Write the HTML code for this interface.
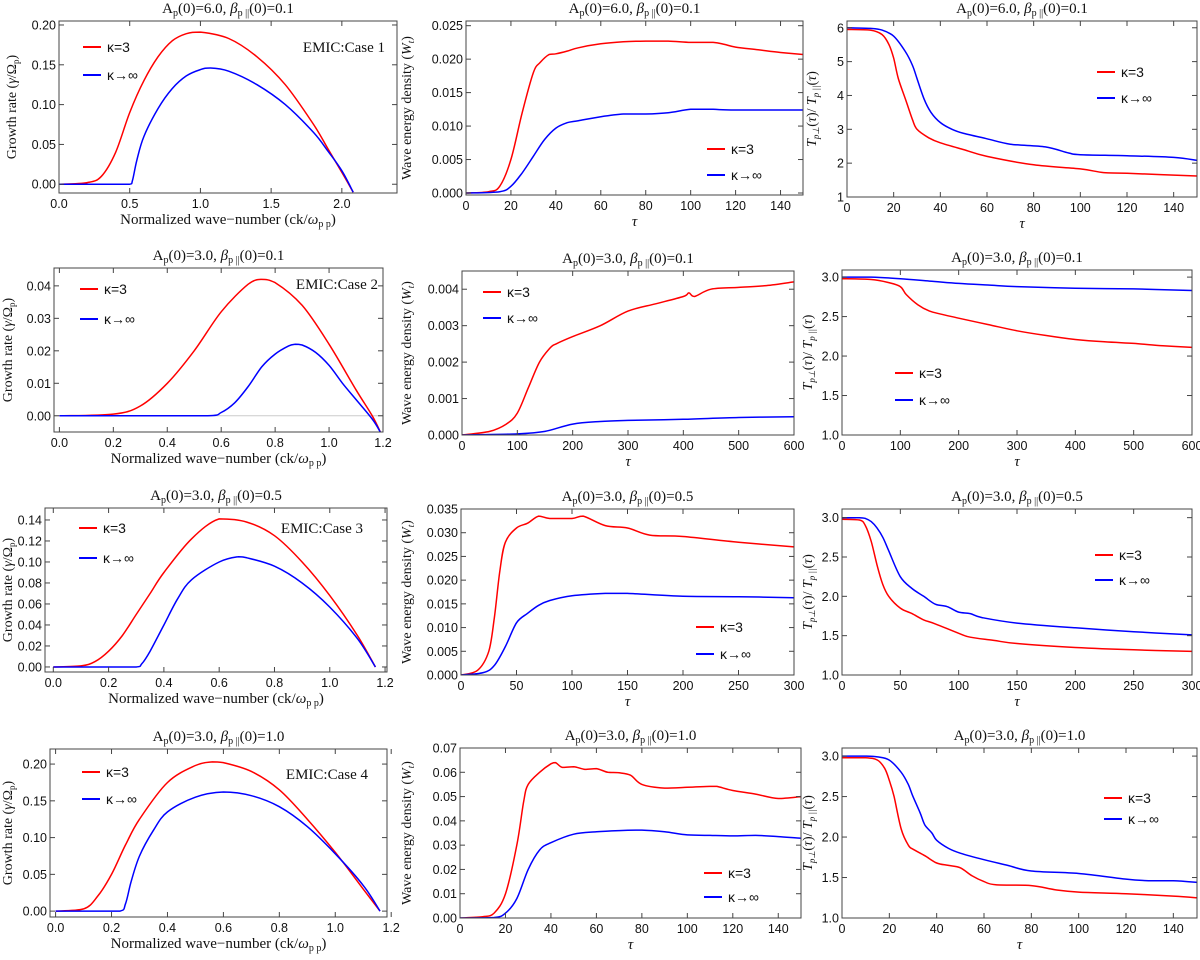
<!DOCTYPE html>
<html><head><meta charset="utf-8"><style>
html,body{margin:0;padding:0;background:#fff}
svg{display:block}
text{font-family:"Liberation Sans",sans-serif}
.ser{font-family:"Liberation Serif",serif}
</style></head><body>
<svg id="fig" width="1200" height="960" viewBox="0 0 1200 960"></svg>
<script>
// ---------- data ----------
const a1_xr=[0,0.2,0.3,0.4,0.5,0.6,0.7,0.8,0.9,1.0,1.2,1.4,1.6,1.8,1.9,2.0,2.08];
const a1_yr=[0,0.002,0.01,0.04,0.09,0.13,0.16,0.18,0.189,0.191,0.183,0.16,0.125,0.075,0.045,0.015,-0.01];
const a1_xb=[0,0.5,0.52,0.55,0.6,0.7,0.8,0.9,1.0,1.07,1.2,1.4,1.6,1.8,1.9,2.0,2.08];
const a1_yb=[0,0,0.005,0.03,0.06,0.095,0.12,0.136,0.144,0.146,0.142,0.125,0.1,0.065,0.042,0.017,-0.01];
const a2_xr=[0,0.2,0.3,0.4,0.5,0.6,0.7,0.75,0.8,0.9,1.0,1.1,1.16,1.19];
const a2_yr=[0,0.0005,0.003,0.01,0.02,0.032,0.0405,0.042,0.041,0.034,0.022,0.008,0,-0.005];
const a2_xb=[0,0.55,0.6,0.65,0.7,0.75,0.8,0.85,0.875,0.9,0.95,1.0,1.05,1.1,1.16,1.19];
const a2_yb=[0,0,0.001,0.004,0.009,0.015,0.019,0.0215,0.022,0.0218,0.0195,0.0155,0.01,0.005,-0.001,-0.005];
const a3_xr=[0,0.1,0.15,0.2,0.25,0.3,0.35,0.4,0.5,0.6,0.7,0.8,0.9,1.0,1.1,1.165];
const a3_yr=[0,0.001,0.005,0.015,0.03,0.05,0.07,0.09,0.122,0.141,0.138,0.125,0.1,0.068,0.03,0];
const a3_xb=[0,0.3,0.32,0.35,0.4,0.45,0.5,0.6,0.67,0.7,0.8,0.9,1.0,1.1,1.165];
const a3_yb=[0,0,0.003,0.015,0.04,0.065,0.083,0.1,0.105,0.104,0.096,0.08,0.057,0.027,0];
const a4_xr=[0,0.1,0.15,0.2,0.25,0.3,0.4,0.5,0.56,0.6,0.7,0.8,0.9,1.0,1.1,1.16];
const a4_yr=[0,0.003,0.02,0.05,0.09,0.125,0.175,0.198,0.203,0.202,0.19,0.165,0.125,0.08,0.03,0];
const a4_xb=[0,0.23,0.25,0.27,0.3,0.35,0.4,0.5,0.6,0.7,0.8,0.9,1.0,1.1,1.16];
const a4_yb=[0,0,0.01,0.04,0.075,0.11,0.135,0.155,0.162,0.157,0.142,0.115,0.078,0.035,0];
const b1_xr=[0,10,15,20,25,30,33,37,40,45,50,60,70,80,90,100,110,115,120,130,140,150];
const b1_yr=[0,0.0002,0.001,0.005,0.012,0.018,0.0195,0.0207,0.0208,0.0212,0.0217,0.0223,0.0226,0.0227,0.0227,0.0225,0.0225,0.0222,0.0218,0.0214,0.021,0.0207];
const b1_xb=[0,15,20,25,30,35,40,45,50,60,70,80,90,100,110,120,150];
const b1_yb=[0,0.0002,0.001,0.003,0.0055,0.008,0.0097,0.0105,0.0108,0.0114,0.0118,0.0118,0.012,0.0125,0.0125,0.0124,0.0124];
const b2_xr=[0,50,80,100,120,140,160,170,200,250,300,350,400,410,420,450,500,550,600];
const b2_yr=[0,0.0001,0.0003,0.0006,0.0013,0.002,0.0024,0.0025,0.0027,0.003,0.0034,0.0036,0.0038,0.0039,0.0038,0.004,0.00405,0.0041,0.0042];
const b2_xb=[0,100,150,200,250,300,400,500,600];
const b2_yb=[0,0.00003,0.0001,0.0003,0.00037,0.0004,0.00043,0.00048,0.0005];
const b3_xr=[0,15,25,30,35,40,50,60,70,80,100,110,130,150,170,200,250,300];
const b3_yr=[0,0.001,0.005,0.012,0.022,0.028,0.031,0.032,0.0335,0.033,0.033,0.0335,0.0315,0.031,0.0295,0.0292,0.028,0.027];
const b3_xb=[0,20,30,40,50,60,70,80,100,130,150,200,250,300];
const b3_yb=[0,0.0005,0.002,0.006,0.011,0.013,0.0147,0.0157,0.0167,0.0172,0.0172,0.0166,0.0165,0.0163];
const b4_xr=[0,10,15,20,25,28,30,35,40,42,45,50,55,60,65,70,75,80,90,100,110,113,120,130,140,150];
const b4_yr=[0,0.0005,0.002,0.01,0.03,0.048,0.055,0.06,0.0635,0.064,0.062,0.0623,0.0612,0.0615,0.06,0.0598,0.0588,0.055,0.0535,0.0538,0.0542,0.0542,0.0525,0.051,0.0492,0.05];
const b4_xb=[0,15,20,25,30,35,40,50,60,70,80,90,100,110,120,130,140,150];
const b4_yb=[0,0.0002,0.002,0.008,0.02,0.028,0.031,0.0345,0.0355,0.036,0.0362,0.0355,0.0342,0.034,0.0338,0.034,0.0335,0.0328];
const c1_xr=[0,10,15,18,20,22,25,28,30,35,40,50,60,80,100,110,120,150];
const c1_yr=[5.95,5.93,5.8,5.5,5.1,4.5,3.9,3.3,3.0,2.75,2.6,2.4,2.2,1.95,1.83,1.72,1.7,1.62];
const c1_xb=[0,10,15,20,25,28,30,33,36,40,45,50,60,70,85,95,100,120,140,150];
const c1_yb=[6.0,5.98,5.93,5.75,5.3,4.9,4.5,3.9,3.5,3.2,3.0,2.88,2.72,2.56,2.48,2.3,2.25,2.22,2.17,2.08];
const c2_xr=[0,50,80,100,110,130,150,170,200,250,300,350,400,450,500,550,600];
const c2_yr=[2.98,2.97,2.93,2.88,2.78,2.65,2.57,2.53,2.48,2.4,2.32,2.26,2.21,2.18,2.16,2.13,2.11];
const c2_xb=[0,50,100,150,200,250,300,400,500,600];
const c2_yb=[3.0,3.0,2.98,2.95,2.92,2.9,2.88,2.86,2.85,2.83];
const c3_xr=[0,15,20,25,30,35,40,50,60,70,80,100,110,130,150,200,250,300];
const c3_yr=[2.98,2.97,2.9,2.7,2.4,2.15,2.0,1.85,1.78,1.7,1.65,1.53,1.48,1.44,1.4,1.35,1.32,1.3];
const c3_xb=[0,15,20,25,30,35,40,50,60,70,80,90,100,110,120,150,200,250,300];
const c3_yb=[3.0,3.0,2.99,2.95,2.87,2.75,2.58,2.25,2.1,2.0,1.9,1.87,1.8,1.78,1.73,1.66,1.6,1.55,1.51];
const c4_xr=[0,10,15,18,20,22,25,28,30,35,40,45,50,55,60,65,80,90,100,120,140,150];
const c4_yr=[2.98,2.98,2.95,2.85,2.7,2.5,2.1,1.9,1.85,1.77,1.68,1.65,1.62,1.52,1.45,1.41,1.4,1.35,1.32,1.3,1.27,1.25];
const c4_xb=[0,10,15,20,25,28,30,33,35,38,40,45,50,60,70,80,100,120,130,140,150];
const c4_yb=[3.0,3.0,2.99,2.95,2.8,2.65,2.5,2.3,2.15,2.05,1.96,1.86,1.8,1.72,1.65,1.58,1.55,1.48,1.46,1.46,1.44];
const betas=["0.1","0.1","0.5","1.0"];

// ---------- drawing ----------
const NS="http://www.w3.org/2000/svg";
const svg=document.getElementById('fig');
function mk(tag,attrs,parent){const e=document.createElementNS(NS,tag);for(const k in attrs)e.setAttribute(k,attrs[k]);(parent||svg).appendChild(e);return e;}
function clamp(v,a,b){const lo=Math.min(a,b),hi=Math.max(a,b);return Math.max(lo,Math.min(hi,v));}
function smooth(pts){let d="M"+pts[0][0].toFixed(1)+","+pts[0][1].toFixed(1);
 for(let i=0;i<pts.length-1;i++){const p0=pts[Math.max(0,i-1)],p1=pts[i],p2=pts[i+1],p3=pts[Math.min(pts.length-1,i+2)];
 const c1=[clamp(p1[0]+(p2[0]-p0[0])/6,p1[0],p2[0]),clamp(p1[1]+(p2[1]-p0[1])/6,p1[1],p2[1])];
 const c2=[clamp(p2[0]-(p3[0]-p1[0])/6,p1[0],p2[0]),clamp(p2[1]-(p3[1]-p1[1])/6,p1[1],p2[1])];
 d+="C"+c1[0].toFixed(1)+","+c1[1].toFixed(1)+" "+c2[0].toFixed(1)+","+c2[1].toFixed(1)+" "+p2[0].toFixed(1)+","+p2[1].toFixed(1);}
 return d;}

const panels=[
 {id:"a1",col:0,row:0,L:59,R:397,T:21,B:193,x0:0,x1:2.39,y0:-0.011,y1:0.205,xt:[0,0.5,1,1.5,2],xf:1,yt:[0,0.05,0.1,0.15,0.2],yf:2,xr:a1_xr,yr:a1_yr,xb:a1_xb,yb:a1_yb,lg:[83,47,75],cs:"EMIC:Case 1",csx:385,csy:52},
 {id:"a2",col:0,row:1,L:54,R:383,T:268,B:432,x0:-0.02,x1:1.2,y0:-0.005,y1:0.0455,xt:[0,0.2,0.4,0.6,0.8,1,1.2],xf:1,yt:[0,0.01,0.02,0.03,0.04],yf:2,xr:a2_xr,yr:a2_yr,xb:a2_xb,yb:a2_yb,lg:[80,289,319],cs:"EMIC:Case 2",csx:378,csy:289,zero:true},
 {id:"a3",col:0,row:2,L:45,R:387,T:508,B:672,x0:-0.03,x1:1.207,y0:-0.0048,y1:0.1514,xt:[0,0.2,0.4,0.6,0.8,1,1.2],xf:1,yt:[0,0.02,0.04,0.06,0.08,0.1,0.12,0.14],yf:2,xr:a3_xr,yr:a3_yr,xb:a3_xb,yb:a3_yb,lg:[79,528,558],cs:"EMIC:Case 3",csx:363,csy:533},
 {id:"a4",col:0,row:3,L:50,R:387,T:749,B:917,x0:-0.02,x1:1.185,y0:-0.008,y1:0.2205,xt:[0,0.2,0.4,0.6,0.8,1,1.2],xf:1,yt:[0,0.05,0.1,0.15,0.2],yf:2,xr:a4_xr,yr:a4_yr,xb:a4_xb,yb:a4_yb,lg:[82,772,799],cs:"EMIC:Case 4",csx:368,csy:779},
 {id:"b1",col:1,row:0,L:466,R:803,T:21,B:195,x0:0,x1:150,y0:-0.0003,y1:0.0257,xt:[0,20,40,60,80,100,120,140],xf:0,yt:[0,0.005,0.01,0.015,0.02,0.025],yf:3,xr:b1_xr,yr:b1_yr,xb:b1_xb,yb:b1_yb,lg:[707,149,175]},
 {id:"b2",col:1,row:1,L:462,R:794,T:271,B:435,x0:0,x1:600,y0:0,y1:0.0045,xt:[0,100,200,300,400,500,600],xf:0,yt:[0,0.001,0.002,0.003,0.004],yf:3,xr:b2_xr,yr:b2_yr,xb:b2_xb,yb:b2_yb,lg:[483,292,318]},
 {id:"b3",col:1,row:2,L:461,R:794,T:509,B:675,x0:0,x1:300,y0:0,y1:0.035,xt:[0,50,100,150,200,250,300],xf:0,yt:[0,0.005,0.01,0.015,0.02,0.025,0.03,0.035],yf:3,xr:b3_xr,yr:b3_yr,xb:b3_xb,yb:b3_yb,lg:[696,627,654]},
 {id:"b4",col:1,row:3,L:460,R:801,T:748,B:918,x0:0,x1:150,y0:0,y1:0.07,xt:[0,20,40,60,80,100,120,140],xf:0,yt:[0,0.01,0.02,0.03,0.04,0.05,0.06,0.07],yf:2,xr:b4_xr,yr:b4_yr,xb:b4_xb,yb:b4_yb,lg:[704,873,897]},
 {id:"c1",col:2,row:0,L:847,R:1197,T:21,B:197,x0:0,x1:150,y0:1,y1:6.2,xt:[0,20,40,60,80,100,120,140],xf:0,yt:[1,2,3,4,5,6],yf:0,xr:c1_xr,yr:c1_yr,xb:c1_xb,yb:c1_yb,lg:[1097,72,98]},
 {id:"c2",col:2,row:1,L:842,R:1192,T:270,B:435,x0:0,x1:600,y0:1,y1:3.09,xt:[0,100,200,300,400,500,600],xf:0,yt:[1,1.5,2,2.5,3],yf:1,xr:c2_xr,yr:c2_yr,xb:c2_xb,yb:c2_yb,lg:[895,373,400]},
 {id:"c3",col:2,row:2,L:842,R:1192,T:509,B:675,x0:0,x1:300,y0:1,y1:3.11,xt:[0,50,100,150,200,250,300],xf:0,yt:[1,1.5,2,2.5,3],yf:1,xr:c3_xr,yr:c3_yr,xb:c3_xb,yb:c3_yb,lg:[1095,555,580]},
 {id:"c4",col:2,row:3,L:842,R:1197,T:748,B:918,x0:0,x1:150,y0:1,y1:3.1,xt:[0,20,40,60,80,100,120,140],xf:0,yt:[1,1.5,2,2.5,3],yf:1,xr:c4_xr,yr:c4_yr,xb:c4_xb,yb:c4_yb,lg:[1104,798,819]}
];

panels.forEach(p=>{
 const g=mk('g',{});
 
 
 const sx=v=>p.L+(v-p.x0)/(p.x1-p.x0)*(p.R-p.L);
 const sy=v=>p.B-(v-p.y0)/(p.y1-p.y0)*(p.B-p.T);
 const cp=mk('clipPath',{id:'clip-'+p.id},g);
 mk('rect',{x:p.L,y:p.T,width:p.R-p.L,height:p.B-p.T},cp);
 if(p.zero){const z=mk('line',{x1:p.L,x2:p.R,y1:sy(0),y2:sy(0),stroke:'#ccc','stroke-width':1},g);
  }
 [[p.xr,p.yr,'#f00','red-kappa3'],[p.xb,p.yb,'#00f','blue-kappa-inf']].forEach(s=>{
  const pts=s[0].map((x,i)=>[sx(x),sy(s[1][i])]);
  const path=mk('path',{d:smooth(pts),fill:'none',stroke:s[2],'stroke-width':1.5,'clip-path':'url(#clip-'+p.id+')'},g);
  
  
 });
 const fr=mk('rect',{x:p.L,y:p.T,width:p.R-p.L,height:p.B-p.T,fill:'none',stroke:'#444','stroke-width':1},g);
 
 p.xt.forEach(v=>{const x=sx(v);
  mk('line',{x1:x,x2:x,y1:p.B,y2:p.B-5,stroke:'#444'},g);
  mk('line',{x1:x,x2:x,y1:p.T,y2:p.T+5,stroke:'#444'},g);
  const t=mk('text',{x:x,y:p.B+15,'text-anchor':'middle','font-size':12.5,fill:'#111'},g);
  t.textContent=v.toFixed(p.xf);
  
 });
 p.yt.forEach(v=>{const y=sy(v);
  mk('line',{x1:p.L,x2:p.L+5,y1:y,y2:y,stroke:'#444'},g);
  mk('line',{x1:p.R,x2:p.R-5,y1:y,y2:y,stroke:'#444'},g);
  const t=mk('text',{x:p.L-3,y:y+4.5,'text-anchor':'end','font-size':12.5,fill:'#111'},g);
  t.textContent=v.toFixed(p.yf);
  
 });
 const tt=mk('text',{x:(p.L+p.R)/2,y:p.T-8,'text-anchor':'middle','font-size':15,class:'ser',fill:'#111'},g);
 tt.innerHTML='A<tspan font-size="10" dy="3">p</tspan><tspan dy="-3">(0)='+(p.row==0?'6.0':'3.0')+', </tspan><tspan font-style="italic">β</tspan><tspan font-size="10" dy="3">p ||</tspan><tspan dy="-3">(0)='+betas[p.row]+'</tspan>';
 
 const xt=mk('text',{x:(p.L+p.R)/2,y:p.B+31,'text-anchor':'middle','font-size':15,class:'ser',fill:'#111'},g);
 if(p.col==0) xt.innerHTML='Normalized wave−number (ck/<tspan font-style="italic">ω</tspan><tspan font-size="10" dy="3">p p</tspan><tspan dy="-3">)</tspan>';
 else {xt.setAttribute('font-style','italic');xt.textContent='τ';}
 
 const yx=p.col==0?(p.L<56?12:16):(p.col==1?411:(p.L<845?812:816)), ym=(p.T+p.B)/2;
 const yt=mk('text',{x:yx,y:ym,'text-anchor':'middle','font-size':14,class:'ser',fill:'#111',transform:'rotate(-90 '+yx+' '+ym+')'},g);
 if(p.col==0) yt.innerHTML='Growth rate  (<tspan font-style="italic">γ</tspan>/Ω<tspan font-size="9" dy="3">p</tspan><tspan dy="-3">)</tspan>';
 else if(p.col==1) yt.innerHTML='Wave energy density (<tspan font-style="italic">W</tspan><tspan font-size="9" dy="3" font-style="italic">t</tspan><tspan dy="-3">)</tspan>';
 else yt.innerHTML='<tspan font-style="italic">T</tspan><tspan font-size="9" dy="3" font-style="italic">p⊥</tspan><tspan dy="-3">(</tspan><tspan font-style="italic">τ</tspan>)/ <tspan font-style="italic">T</tspan><tspan font-size="9" dy="3" font-style="italic">p ||</tspan><tspan dy="-3">(</tspan><tspan font-style="italic">τ</tspan>)';
 
 const lx=p.lg[0];
 [[p.lg[1],'#f00','κ=3','legend-kappa3'],[p.lg[2],'#00f','κ→∞','legend-kappa-inf']].forEach(e=>{
  const lg=mk('g',{},g);
  
  mk('line',{x1:lx,x2:lx+18,y1:e[0],y2:e[0],stroke:e[1],'stroke-width':2},lg);
  const t=mk('text',{x:lx+24,y:e[0]+5,'font-size':14,fill:'#111'},lg);t.textContent=e[2];
 });
 if(p.cs){const c=mk('text',{x:p.csx,y:p.csy,'text-anchor':'end','font-size':15,class:'ser',fill:'#111'},g);
  c.textContent=p.cs;}
});
</script>
</body></html>
